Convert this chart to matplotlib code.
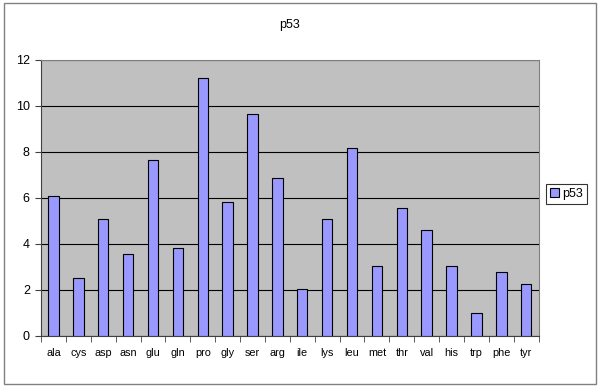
import matplotlib.pyplot as plt
import numpy as np
from matplotlib.patches import Rectangle

amino = ["ala", "cys", "asp", "asn", "glu", "gln", "pro", "gly", "ser", "arg",
         "ile", "lys", "leu", "met", "thr", "val", "his", "trp", "phe", "tyr"]
p53 = [6.1, 2.52, 5.07, 3.55, 7.63, 3.81, 11.2, 5.84, 9.65, 6.87,
       2.03, 5.07, 8.16, 3.04, 5.58, 4.59, 3.04, 1.01, 2.8, 2.27]

plt.rcParams['font.family'] = ['Liberation Sans', 'DejaVu Sans']

fig = plt.figure(figsize=(6, 3.87), dpi=100)
fig.patches.append(Rectangle((0.007, 0.008), 0.986, 0.984, transform=fig.transFigure,
                             fill=False, edgecolor="#808080", linewidth=1))
ax = fig.add_axes([0.0683, 0.1318, 0.8295, 0.7132])
ax.set_facecolor("#C0C0C0")

x = np.arange(len(amino))
ax.bar(x, p53, width=0.42, color="#9999FF", edgecolor="black", linewidth=0.8,
       label="p53", zorder=3)

ax.set_xlim(-0.5, len(amino) - 0.5)
ax.set_ylim(0, 12)
ax.set_yticks(np.arange(0, 13, 2))
ax.yaxis.grid(True, color="black", linewidth=0.8, zorder=1)
ax.set_axisbelow(True)
ax.set_xticks(x)
ax.set_xticklabels(amino, fontsize=7.8)
ax.set_xticks(np.arange(-0.5, len(amino)), minor=True)
ax.tick_params(axis="x", which="major", length=0, pad=9)
ax.tick_params(axis="x", which="minor", length=4, direction="out", color="#404040")
ax.tick_params(axis="y", length=4, direction="out", labelsize=9, pad=4, color="#404040")

for s in ["top", "right"]:
    ax.spines[s].set_color("#808080")
ax.spines["left"].set_color("#404040")
ax.spines["bottom"].set_color("#404040")

ax.set_title("p53", fontsize=9, pad=23)

leg = ax.legend(loc="center left", bbox_to_anchor=(1.015, 0.515), fontsize=9,
                frameon=True, fancybox=False, edgecolor="black", borderpad=0.3,
                handlelength=0.7, handleheight=0.7, handletextpad=0.3, borderaxespad=0)
leg.get_frame().set_linewidth(0.8)

plt.savefig("out.png", dpi=100)
